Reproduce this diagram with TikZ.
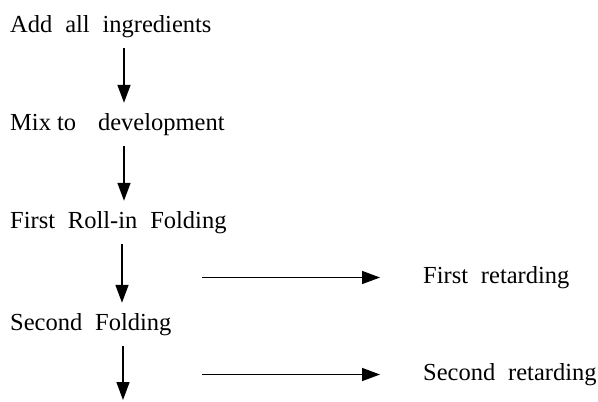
\documentclass[tikz,border=0pt]{standalone}
\usepackage{fontspec}
\setmainfont{Liberation Serif}[WordSpace=2.1]
\usetikzlibrary{arrows.meta}
\begin{document}
\begin{tikzpicture}[x=1pt,y=-1pt,
  step text/.style={anchor=base west,inner sep=0pt,text height=16pt,text depth=5pt,
    font=\fontsize{24.5}{28}\selectfont},
  flow/.style={line width=1.5pt,-{Triangle[length=18pt,width=13pt]}},
  down/.style={flow,shorten <=11pt,shorten >=11pt},
  side/.style={flow,shorten >=45pt}]
\useasboundingbox (0,0) rectangle (598,402);

% main sequence of steps
\node[step text] (add)    at (10,32)  {Add all ingredients};
\node[step text] (mix)    at (10,130) {Mix\hspace{6pt}to\hspace{22pt}development};
\node[step text] (roll)   at (10,228) {First Roll-in Folding};
\node[step text] (second) at (10,330) {Second Folding};

% retarding steps
\node[step text] (ret1) at (423,283) {First retarding};
\node[step text] (ret2) at (423,380) {Second retarding};

% column of the downward arrows and loose ends
\coordinate (col) at (124,0);
\coordinate (tail) at (124,411);
\coordinate (h1) at (202,0);

\draw[down] (add.south -| col)    -- (mix.north -| col);
\draw[down] (mix.south -| col)    -- (roll.north -| col);
\draw[down] ([xshift=-2pt]roll.south -| col) -- ([xshift=-2pt]second.north -| col);
\draw[down] ([xshift=-1pt]second.south -| col) -- ([xshift=-1pt]tail);

\draw[side] (ret1.west -| h1) -- ([xshift=2pt]ret1.west);
\draw[side] (ret2.west -| h1) -- ([xshift=2pt]ret2.west);
\end{tikzpicture}
\end{document}
